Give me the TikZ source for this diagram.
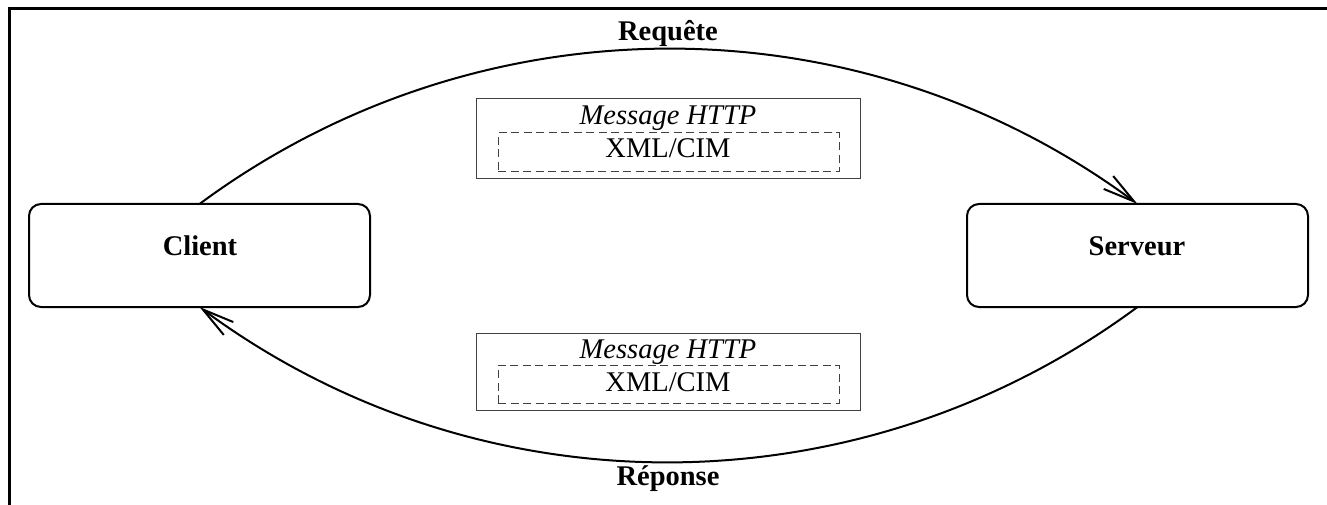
\documentclass[tikz,border=0pt]{standalone}
\usepackage{fontspec}
\setmainfont{Liberation Serif}
\usetikzlibrary{arrows.meta}
\begin{document}
\begin{tikzpicture}[x=1pt,y=1pt,
  every node/.style={inner sep=0pt, outer sep=0pt, font=\fontsize{28.5}{34}\selectfont},
  endpoint/.style={draw, line width=2pt, rounded corners=12pt, minimum width=341pt, minimum height=103pt},
  msgbox/.style={draw=black!75, line width=1pt, minimum width=384pt},
  xmlbox/.style={draw=black!75, line width=1pt, dash pattern=on 8pt off 4.5pt, minimum width=341pt},
  flow/.style={line width=2pt, -{Straight Barb[length=32pt,width=16pt,line width=2pt]}},
  lbl/.style={anchor=base}
]
\useasboundingbox (0,0) rectangle (1327,504);
\draw[line width=3pt] (9,-2) -- (9,495) -- (1330,495);

\node[endpoint] (client) at (199.5,248.5) {};
\node[endpoint] (server) at (1137.5,248.5) {};
\node[lbl, font=\fontsize{28.5}{34}\selectfont\bfseries] (clientlbl) at (200,249) {Client};
\node[lbl, font=\fontsize{28.5}{34}\selectfont\bfseries] (serverlbl) at (1137,249) {Serveur};

\node[msgbox, minimum height=80pt] (msg1) at (668,365) {};
\node[xmlbox, minimum height=39pt] (xml1) at (668.5,351.5) {};
\node[lbl, font=\fontsize{28.5}{34}\selectfont\itshape] (http1) at (668,379) {Message HTTP};
\node[lbl] (xmltxt1) at (668,346) {XML/CIM};

\node[msgbox, minimum height=77pt] (msg2) at (668,132.5) {};
\node[xmlbox, minimum height=38pt] (xml2) at (668.5,120) {};
\node[lbl, font=\fontsize{28.5}{34}\selectfont\itshape] (http2) at (668,146) {Message HTTP};
\node[lbl] (xmltxt2) at (668,113) {XML/CIM};

\draw[flow] (client.north) to[out=36.5,in=143.5,looseness=0.95] (server.north);
\draw[flow] (server.south) to[out=216.5,in=-36.5,looseness=0.95] (client.south);

\node[lbl, font=\fontsize{28.5}{34}\selectfont\bfseries] (req) at (668,463) {Requête};
\node[lbl, font=\fontsize{28.5}{34}\selectfont\bfseries] (rep) at (668,19) {Réponse};
\end{tikzpicture}
\end{document}
